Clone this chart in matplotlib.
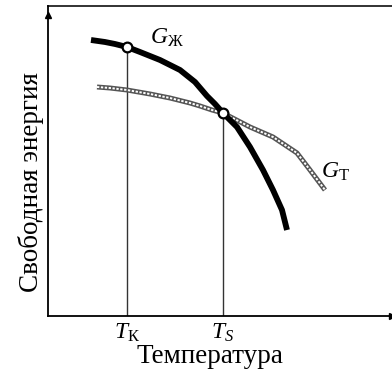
import matplotlib.pyplot as plt

plt.rcParams['font.family'] = ['Liberation Serif', 'DejaVu Serif']
plt.rcParams['mathtext.fontset'] = 'custom'
plt.rcParams['mathtext.rm'] = 'Liberation Serif'
plt.rcParams['mathtext.it'] = 'Liberation Serif:italic'

# curves (arbitrary units)
t_liquid = [43, 57, 67, 79, 92, 112, 132, 147, 159, 167, 175, 189, 202, 215, 225, 234, 239]
g_liquid = [276, 274, 272, 269, 264, 256, 246, 234, 220, 212, 203, 189, 169, 146, 126, 106, 86]
t_solid = [49, 62, 79, 102, 122, 142, 152, 164, 175, 202, 225, 249, 262, 277]
g_solid = [229, 228, 226, 222, 218, 213, 210, 206, 203, 189, 179, 163, 146, 126]

t_k, g_k = 79, 269
t_s, g_s = 175, 203

fig = plt.figure(figsize=(3.92, 3.78), dpi=100)
ax = fig.add_axes([48 / 392, 62 / 378, 344 / 392, 310 / 378])
ax.set_xlim(0, 344)
ax.set_ylim(0, 310)

# guides down to the axis
ax.plot([t_k, t_k], [0, g_k], color='#333333', lw=1.0, zorder=1)
ax.plot([t_s, t_s], [0, g_s], color='#333333', lw=1.0, zorder=1)

# solid phase: double rope-like line
ax.plot(t_solid, g_solid, color='#555555', lw=3.6, solid_capstyle='butt',
        solid_joinstyle='round', zorder=2)
ax.plot(t_solid, g_solid, color='white', lw=1.4, ls=(0, (1.2, 0.8)), zorder=3)

# liquid phase: thick black
ax.plot(t_liquid, g_liquid, color='black', lw=4.2, solid_capstyle='butt',
        solid_joinstyle='round', zorder=4)

ax.plot([t_k, t_s], [g_k, g_s], 'o', ms=7, mfc='white', mec='black', mew=1.6, zorder=5)

ax.text(102, 278, r'$G_{\mathrm{Ж}}$', fontsize=17, ha='left', va='center')
ax.text(273, 144, r'$G_{\mathrm{Т}}$', fontsize=17, ha='left', va='center')
ax.text(t_k, -6, r'$T_{\mathrm{К}}$', fontsize=17, ha='center', va='top')
ax.text(t_s, -6, r'$T_{S}$', fontsize=17, ha='center', va='top')
ax.text(162, -28, 'Температура', fontsize=19.5, ha='center', va='top')
ax.text(-17, 134, 'Свободная энергия', fontsize=19.5, rotation=90, ha='center', va='center')

for s in ['top', 'right']:
    ax.spines[s].set_visible(False)
ax.spines['left'].set_linewidth(1.3)
ax.spines['bottom'].set_linewidth(1.3)
ax.set_xticks([])
ax.set_yticks([])

# arrows on the axes
ax.plot(1, 0, '>', color='black', ms=5, transform=ax.transAxes, clip_on=False)
ax.plot(0, 0.97, '^', color='black', ms=5, transform=ax.transAxes, clip_on=False)
# frame line across the top
ax.plot([0, 1], [1, 1], color='#222222', lw=1.3, transform=ax.transAxes, clip_on=False)

fig.savefig('out.png', dpi=100)
